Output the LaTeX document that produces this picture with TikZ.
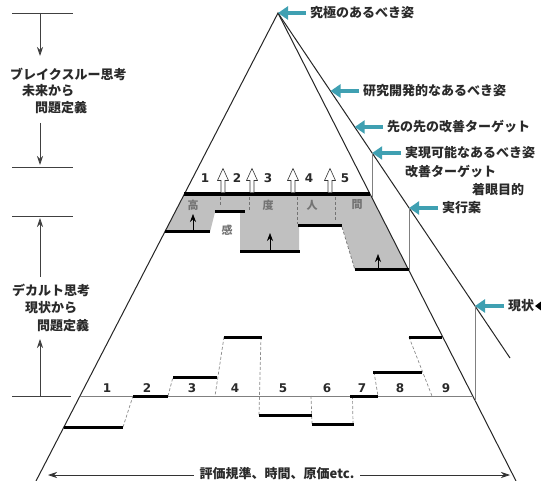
\documentclass[tikz,border=0pt]{standalone}
\usepackage{fontspec}
\setmainfont{Noto Sans CJK JP}
\newfontfamily\digitfont{DejaVu Sans}
\usetikzlibrary{arrows.meta}
\definecolor{tealarrow}{HTML}{3FA0B2}
\definecolor{regiongray}{HTML}{C0C0C0}
\definecolor{txtgray}{HTML}{2A2A2A}
\tikzset{
  edge/.style={line width=1pt, black!85},
  bar/.style={line width=3pt, black},
  hair/.style={line width=0.6pt, black!50},
  leftline/.style={line width=0.8pt, black!75},
  dashedc/.style={line width=0.7pt, black!45, dash pattern=on 3pt off 2pt},
  tealptr/.style={line width=4.5pt, tealarrow, -{Triangle[length=10pt,width=13pt]}},
  lbl/.style={font=\bfseries\fontsize{13}{14}\selectfont, text=txtgray, inner sep=0pt, anchor=west},
  numlbl/.style={font=\digitfont\bfseries\fontsize{12}{13}\selectfont, text=txtgray, inner sep=0pt},
  graylbl/.style={font=\bfseries\fontsize{11}{12}\selectfont, text=black!55, inner sep=0pt},
  vptr/.style={leftline, -{Stealth[length=9pt,width=6pt]}},
  smallptr/.style={line width=0.6pt, black, -{Stealth[length=8pt,width=6pt]}},
  hollowup/.pic={\filldraw[line width=0.6pt, fill=white, draw=black!80] (-2,0) -- (-2,-12) -- (-5.5,-12) -- (0,-24) -- (5.5,-12) -- (2,-12) -- (2,0);}
}
\begin{document}
\begin{tikzpicture}[x=1pt,y=-1pt]
\useasboundingbox (0,0) rectangle (541,481);
\fill[white] (0,0) rectangle (541,481);

% key points
\coordinate (apex) at (278,13);
\coordinate (Lbot) at (36,481);
\coordinate (Rbot) at (516,481);
\coordinate (Oend) at (510,358);
\coordinate (O91) at (330.5,91);
\coordinate (O127) at (354.7,127);
\coordinate (O153) at (372.2,153);
\coordinate (O208) at (409.1,208);
\coordinate (O306) at (475,306);
\coordinate (M153) at (372.2,198.4);
\coordinate (M208) at (409.1,271);
\coordinate (M306) at (475,400.8);
\coordinate (L396) at (80,396);
\coordinate (R396) at (472.6,396);

% gray region
\fill[regiongray] (184.4,194) -- (370,194) -- (408.6,270) -- (355,270) -- (342,226) -- (299,226) -- (299,252) -- (240,252) -- (240,212) -- (215,212) -- (210,232) -- (164.8,232) -- cycle;

% pyramid
\draw[edge] (Lbot) -- (apex) -- (Rbot);
\draw[edge] (apex) -- (Oend);
\draw[hair] (O153) -- (M153);
\draw[hair] (O208) -- (M208);
\draw[hair] (O306) -- (M306);
\draw[hair] (L396) -- (R396);

% top region bars
\coordinate (tb1) at (184.4,194); \coordinate (tb2) at (370,194);
\draw[bar, line width=3.4pt] (tb1) -- (tb2);
\coordinate (g1a) at (165,232); \coordinate (g1b) at (210,232);
\coordinate (g2a) at (215,212); \coordinate (g2b) at (245,212);
\coordinate (g3a) at (240,252); \coordinate (g3b) at (300,252);
\coordinate (g4a) at (298,226); \coordinate (g4b) at (342,226);
\coordinate (g5a) at (355,270); \coordinate (g5b) at (408.6,270);
\draw[bar] (g1a) -- (g1b);
\draw[bar] (g2a) -- (g2b);
\draw[bar] (g3a) -- (g3b);
\draw[bar] (g4a) -- (g4b);
\draw[bar] (g5a) -- (g5b);
\draw[dashedc, black!55] (342,227) -- (g5a);
\draw[dashedc, black!55] (220,197) -- (220,205);
\draw[dashedc, black!55] (249,197) -- (249,211);
\draw[dashedc, black!55] (297,197) -- (297,224);
\draw[dashedc, black!55] (335,197) -- (335,220);

% hollow arrows
\pic at (223,192.5) {hollowup};
\pic at (252,192.5) {hollowup};
\pic at (293,192.5) {hollowup};
\pic at (330,192.5) {hollowup};

% small arrows in gray region
\draw[smallptr] (193,230.5) -- (193,214);
\draw[smallptr] (270,250.5) -- (270,233);
\draw[smallptr] (378,268.5) -- (378,254);

% gray region characters
\node[graylbl] (k1) at (193,205) {高};
\node[graylbl] (k2) at (227,230) {感};
\node[graylbl] (k3) at (268,205) {度};
\node[graylbl] (k4) at (312,205) {人};
\node[graylbl] (k5) at (357,205) {間};

% top numbers
\node[numlbl] (tn1) at (205,178) {1};
\node[numlbl] (tn2) at (237,178) {2};
\node[numlbl] (tn3) at (268,178) {3};
\node[numlbl] (tn4) at (309,178) {4};
\node[numlbl] (tn5) at (345,178) {5};

% bottom step chart
\coordinate (b1a) at (64,427); \coordinate (b1b) at (123,427);
\coordinate (b2a) at (133,396); \coordinate (b2b) at (168,396);
\coordinate (b3a) at (173,377); \coordinate (b3b) at (217,377);
\coordinate (b4a) at (224,337); \coordinate (b4b) at (262,337);
\coordinate (b5a) at (259,415); \coordinate (b5b) at (312,415);
\coordinate (b6a) at (312,424); \coordinate (b6b) at (354,424);
\coordinate (b7a) at (350,396); \coordinate (b7b) at (378,396);
\coordinate (b8a) at (373,372); \coordinate (b8b) at (422,372);
\coordinate (b9a) at (409,337); \coordinate (b9b) at (442,337);
\draw[dashedc] (b1b) -- (b2a);
\draw[dashedc] (b2b) -- (b3a);
\draw[dashedc] (b4a) -- (215,396);
\draw[dashedc] (261,337) -- (b5a);
\draw[dashedc] (311,396) -- (b6a);
\draw[dashedc] (352.5,396) -- (353,424);
\draw[dashedc] (374,372) -- (b7b);
\draw[dashedc] (b9a) -- (432,396);
\draw[bar] (b1a) -- (b1b);
\draw[bar] (b2a) -- (b2b);
\draw[bar] (b3a) -- (b3b);
\draw[bar] (b4a) -- (b4b);
\draw[bar] (b5a) -- (b5b);
\draw[bar] (b6a) -- (b6b);
\draw[bar] (b7a) -- (b7b);
\draw[bar] (b8a) -- (b8b);
\draw[bar] (b9a) -- (b9b);

\node[numlbl] (n1) at (107,388) {1};
\node[numlbl] (n2) at (147,388) {2};
\node[numlbl] (n3) at (192,388) {3};
\node[numlbl] (n4) at (235,388) {4};
\node[numlbl] (n5) at (283,388) {5};
\node[numlbl] (n6) at (327,388) {6};
\node[numlbl] (n7) at (362,388) {7};
\node[numlbl] (n8) at (400,388) {8};
\node[numlbl] (n9) at (446,388) {9};

% right labels with teal pointers
\node[lbl] (rA) at (310,13) {究極のあるべき姿};
\node[lbl] (rB) at (363,91) {研究開発的なあるべき姿};
\node[lbl] (rC) at (387,127) {先の先の改善ターゲット};
\node[lbl] (rD) at (405,153) {実現可能なあるべき姿};
\node[lbl] (rD2) at (405,172) {改善ターゲット};
\node[lbl] (rD3) at (472,190) {着眼目的};
\node[lbl] (rE) at (442,208) {実行案};
\node[lbl] (rF) at (508,306) {現状};
\draw[tealptr] ([xshift=-4pt]rA.west) -- (apex);
\draw[tealptr] ([xshift=-4pt]rB.west) -- (O91);
\draw[tealptr] ([xshift=-4pt]rC.west) -- (O127);
\draw[tealptr] ([xshift=-4pt]rD.west) -- (O153);
\draw[tealptr] ([xshift=-4pt]rE.west) -- (O208);
\draw[tealptr] ([xshift=-4pt]rF.west) -- (O306);
\fill[black] (535,306) -- (541,301.5) -- (541,310.5) -- cycle;

% left side
\draw[leftline] (12,13) -- (73,13);
\draw[leftline] (12,167) -- (73,167);
\draw[leftline] (12,216) -- (73,216);
\draw[leftline] (12,396) -- (71,396);
\coordinate (va1) at (40,13); \coordinate (va2) at (40,56);
\coordinate (vb1) at (40,123); \coordinate (vb2) at (40,165);
\coordinate (vc1) at (40,277); \coordinate (vc2) at (40,218);
\coordinate (vd1) at (40,396); \coordinate (vd2) at (40,339);
\draw[vptr] (va1) -- (va2);
\draw[vptr] (vb1) -- (vb2);
\draw[vptr] (vc1) -- (vc2);
\draw[vptr] (vd1) -- (vd2);
\node[lbl] (lA1) at (10,74) {ブレイクスルー思考};
\node[lbl] (lA2) at (22,91) {未来から};
\node[lbl] (lA3) at (35,108) {問題定義};
\node[lbl] (lB1) at (12,290) {デカルト思考};
\node[lbl] (lB2) at (25,308) {現状から};
\node[lbl] (lB3) at (37,326) {問題定義};

% bottom double arrow
\coordinate (ba) at (48,475);
\coordinate (bb) at (510,475);
\draw[line width=0.7pt, black!80, {Stealth[length=9pt,width=6pt]}-{Stealth[length=9pt,width=6pt]}] (ba) -- (bb);
\node[lbl, anchor=center, fill=white, inner xsep=6pt, inner ysep=1pt] (bt) at (277,474) {評価規準、時間、原価etc.};
\end{tikzpicture}
\end{document}
